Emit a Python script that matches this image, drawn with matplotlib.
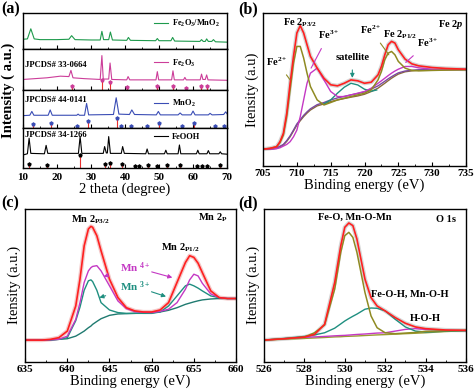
import numpy as np
import matplotlib
matplotlib.use('Agg')
import matplotlib.pyplot as plt
from matplotlib.ticker import MultipleLocator

plt.rcParams['font.family'] = 'Liberation Serif'
plt.rcParams['font.weight'] = 'bold'
plt.rcParams['mathtext.fontset'] = 'custom'
plt.rcParams['mathtext.rm'] = 'Liberation Serif:bold'
plt.rcParams['mathtext.it'] = 'Liberation Serif:italic:bold'
plt.rcParams['mathtext.bf'] = 'Liberation Serif:bold'
plt.rcParams['axes.linewidth'] = 1.0

# ---------------- (a) XRD ----------------
comp_x = [10, 11.3, 12.3, 13.3, 15, 20, 23.5, 24.3, 25.3, 30, 32.7, 33.2, 33.7, 35.2, 35.7, 36.3,
          40.5, 41, 41.6, 49, 49.5, 50, 53.5, 54, 54.6, 62, 62.5, 63, 63.6, 64, 64.5, 65.5, 66, 66.6, 70]
comp_y = [.27, .28, .56, .28, .26, .26, .27, .37, .26, .25, .25, .49, .26, .26, .47, .25,
          .24, .32, .24, .23, .29, .23, .23, .32, .22, .21, .26, .21, .21, .28, .21, .21, .26, .20, .19]

fe2o3_x = [10, 17, 21, 23.5, 24.1, 24.7, 28, 32.7, 33.2, 33.6, 35.2, 35.6, 36.1, 40.5, 40.9, 41.4,
           49.1, 49.5, 49.9, 53.7, 54.1, 54.5, 57.2, 57.6, 58, 62.1, 62.5, 62.9, 63.6, 64, 64.4, 70]
fe2o3_y = [.26, .30, .34, .33, .48, .30, .28, .26, .84, .27, .27, .66, .26, .25, .33, .25,
           .25, .45, .25, .25, .47, .25, .25, .31, .25, .25, .39, .26, .26, .37, .25, .24]
fe2o3_ref = [24.3, 33.2, 35.6, 40.7, 49.4, 54.1, 57.8, 62.2, 64.0]
fe2o3_ref_h = [.10, .25, .19, .07, .10, .10, .06, .09, .09]

mno2_x = [10, 12, 12.6, 13.2, 17.4, 18, 18.6, 25.8, 26.2, 26.6, 28.1, 28.7, 29.3, 36.6, 37.4, 38.2,
          41.3, 42, 42.8, 49.2, 49.8, 50.4, 55.6, 56.2, 56.8, 59.4, 60, 60.6, 64.5, 65, 65.6, 69, 69.6, 70]
mno2_y = [.33, .34, .44, .34, .34, .48, .34, .34, .37, .34, .34, .65, .35, .36, .80, .37,
          .36, .48, .36, .35, .44, .35, .35, .40, .35, .35, .45, .35, .35, .39, .35, .36, .43, .38]
mno2_ref = [12.9, 18.2, 26.0, 29.0, 37.6, 38.9, 41.8, 46.5, 49.9, 56.8, 60.2, 66.6, 69.1]
mno2_ref_h = [.11, .13, .05, .20, .27, .06, .07, .05, .13, .06, .14, .05, .06]

feooh_x = [10, 11.3, 11.8, 12.3, 16.3, 16.8, 17.3, 26.3, 26.8, 27.3, 33.6, 34.0, 34.5, 34.8, 35.2, 35.7,
           38.9, 39.3, 39.8, 46.1, 46.5, 46.9, 51.6, 52.0, 52.4, 55.6, 56.0, 56.4, 61.0, 61.4, 61.8,
           64.1, 64.5, 64.9, 67.6, 68.0, 68.4, 70]
feooh_y = [.33, .36, .75, .37, .36, .57, .37, .37, .79, .37, .37, .54, .38, .38, .79, .37,
           .37, .54, .37, .36, .48, .36, .36, .45, .36, .36, .58, .36, .36, .45, .36,
           .36, .44, .36, .36, .41, .36, .35]
feooh_ref = [11.8, 17.0, 26.8, 34.2, 35.7, 39.1, 43.0, 44.0, 46.8, 49.4, 52.4, 56.1, 61.2, 62.7, 64.2, 67.9]
feooh_ref_h = [.11, .08, .33, .10, .13, .11, .06, .06, .08, .06, .07, .09, .06, .06, .06, .07]

# ---------------- (b) Fe 2p ----------------
fe_x = [705, 706, 707, 707.5, 708, 708.5, 709, 709.5, 710, 710.5, 711, 711.5, 712, 713, 714, 715, 716,
        717, 718, 719, 720, 721, 722, 722.5, 723, 723.5, 724, 724.5, 725, 726, 727, 728, 730, 732, 735]
fe_sum = [10.9, 11.4, 12.5, 15.8, 21.2, 34.4, 54.0, 71.6, 86.9, 91.7, 86.9, 79.2, 71.6, 63.9, 57.3, 53.0, 52.3,
          54.0, 56.2, 55.6, 54.0, 54.7, 59.5, 65.0, 72.6, 79.2, 81.4, 80.3, 75.9, 69.8, 66.7, 65.4, 64.3, 63.7, 63.2]
fe2_y = [10.9, 11.4, 12.5, 15.1, 20.1, 32.2, 49.7, 67.2, 78.1, 78.1, 70.5, 60.6, 51.9, 43.1, 39.8, 41.4, 43.1,
         44.2, 45.3, 46.4, 47.5, 49.7, 56.2, 61.7, 69.4, 73.7, 74.8, 72.6, 68.3, 63.9, 62.4, 62.1, 62.4, 62.6, 62.8]
fe3_y = [10.9, 10.9, 11.2, 11.8, 12.9, 14.0, 15.8, 19.0, 23.4, 32.2, 43.1, 54.0, 60.6, 63.9, 56.2, 48.6, 45.3,
         45.3, 46.4, 47.5, 48.6, 50.8, 54.0, 55.6, 57.3, 59.0, 60.6, 62.0, 63.2, 65.0, 65.0, 64.1, 63.2, 63.0, 63.0]
fe_bg = [10.9, 10.9, 11.4, 12.5, 13.6, 16.0, 19.0, 22.8, 26.7, 29.5, 32.2, 34.5, 36.5, 39.2, 40.5, 42.0, 43.1,
         44.0, 44.9, 45.7, 46.8, 48.6, 50.8, 52.4, 54.0, 55.7, 57.3, 58.7, 60.0, 61.5, 62.1, 62.6, 62.8, 62.9, 63.0]
fe_bg2 = [10.9, 10.9, 11.6, 12.8, 14.0, 16.5, 19.6, 23.4, 27.4, 30.2, 33.0, 35.3, 37.3, 40.0, 41.4, 43.1, 44.4,
          45.4, 46.4, 47.3, 48.4, 50.2, 52.3, 53.8, 55.3, 56.9, 58.3, 59.6, 60.8, 62.0, 62.5, 62.8, 62.9, 63.0, 63.0]
sat_x = [714, 715, 716, 717, 718, 719, 720, 721, 721.8]
sat_y = [40.5, 43.1, 47.5, 51.4, 54.0, 52.9, 50.1, 48.8, 49.6]

# ---------------- (c) Mn 2p ----------------
mn_x = [635, 637, 638, 639, 640, 641, 641.5, 642, 642.5, 642.8, 643, 643.5, 644, 645, 646, 647, 648,
        649, 650, 651, 652, 653, 654, 654.5, 655, 655.5, 656, 657, 658, 659, 660]
mn_sum = [14.2, 14.2, 14.7, 15.8, 20.1, 36.5, 54.0, 75.9, 86.9, 88.6, 88.0, 82.5, 72.6, 54.0, 42.0, 35.4, 33.3,
          32.6, 32.6, 33.9, 38.7, 51.9, 65.0, 69.4, 68.3, 64.5, 58.4, 46.4, 42.0, 41.4, 41.4]
mn4_y = [14.2, 14.2, 14.4, 14.7, 16.8, 27.8, 38.7, 51.9, 59.5, 61.6, 62.4, 62.9, 59.5, 49.7, 39.8, 34.8, 32.8,
         32.4, 32.2, 33.0, 34.4, 38.7, 47.5, 53.6, 57.3, 56.2, 51.4, 44.4, 42.0, 41.4, 41.4]
mn3_y = [14.2, 14.2, 14.4, 14.7, 15.8, 26.9, 35.7, 46.8, 53.0, 53.6, 52.5, 46.8, 38.7, 33.9, 32.2, 31.7, 31.7,
         31.7, 31.7, 32.6, 36.5, 43.1, 49.7, 50.8, 49.7, 48.2, 46.4, 43.1, 42.0, 41.4, 41.4]
mn_bg = [14.2, 14.2, 14.2, 14.7, 15.1, 16.8, 18.4, 20.1, 22.3, 23.4, 24.5, 26.4, 28.2, 30.4, 31.3, 31.5, 31.7,
         32.0, 32.2, 32.6, 33.7, 35.4, 37.6, 38.4, 39.2, 39.9, 40.5, 41.1, 41.4, 41.4, 41.4]

# ---------------- (d) O 1s ----------------
o_x = [526, 527, 528, 528.5, 529, 529.5, 529.8, 530, 530.2, 530.4, 530.6, 531, 531.3, 531.6, 532,
       532.5, 533, 533.5, 534, 535, 536]
o_sum = [14.2, 15.1, 16.2, 17.9, 24.5, 51.9, 75.9, 88.0, 90.8, 89.1, 80.3, 54.0, 42.0, 36.5, 33.3,
         28.9, 25.2, 22.8, 21.7, 20.8, 20.6]
o_lat = [14.2, 15.1, 16.2, 19.0, 24.1, 47.5, 71.6, 82.5, 84.7, 81.4, 71.6, 45.3, 30.0, 22.3, 19.0,
         18.4, 18.8, 19.2, 19.9, 20.3, 20.6]
o_oh = [14.2, 15.3, 16.6, 17.6, 19.0, 22.0, 24.8, 26.7, 28.3, 29.8, 31.2, 34.4, 35.2, 35.0, 33.3,
        27.8, 22.8, 20.1, 19.5, 20.0, 20.4]
o_h2o = [14.2, 15.1, 16.0, 16.3, 16.6, 17.0, 17.2, 17.3, 17.5, 17.7, 17.9, 18.2, 18.5, 18.8, 19.0,
         20.1, 21.2, 21.7, 21.2, 20.6, 20.4]
o_bg = [14.2, 14.8, 15.3, 15.6, 15.9, 16.3, 16.4, 16.6, 16.7, 16.8, 16.9, 17.2, 17.4, 17.6, 17.8,
        18.1, 18.4, 18.7, 19.0, 19.8, 20.4]

fig = plt.figure(figsize=(4.74, 3.92), dpi=100)

# panel (a): four stacked axes
bounds = [0.967, 0.875, 0.770, 0.673, 0.571]
left_a, width_a = 0.0485, 0.4305
patterns = [
    (comp_x, comp_y, None, None, '#1e9a4c', r'Fe$_2$O$_3$/MnO$_2$', None, 0.70),
    (fe2o3_x, fe2o3_y, fe2o3_ref, fe2o3_ref_h, '#cc3d99', r'Fe$_2$O$_3$', 'JPCDS# 33-0664', 0.66),
    (mno2_x, mno2_y, mno2_ref, mno2_ref_h, '#3a4db5', r'MnO$_2$', 'JPCDS# 44-0141', 0.65),
    (feooh_x, feooh_y, feooh_ref, feooh_ref_h, 'black', 'FeOOH', 'JPCDS# 34-1266', 0.79),
]
card_y = [None, 0.60, 0.74, 0.83]
axs_a = []
for i, (xs, ys, rp, rh, col, lab, card, ly) in enumerate(patterns):
    ax = fig.add_axes([left_a, bounds[i + 1], width_a, bounds[i] - bounds[i + 1]])
    ax.plot(xs, ys, color=col, lw=0.8, label=lab)
    if rp is not None:
        ax.vlines(rp, 0, rh, color='#e83030', lw=0.8)
        ax.plot(rp, rh, ls='none', marker='p', ms=2.2, color=col, mec=col)
        ax.text(10.6, card_y[i], card, fontsize=6.2, va='center', ha='left')
    ax.legend(loc='center left', bbox_to_anchor=(0.64, ly), frameon=False, fontsize=6,
              handlelength=1.7, handletextpad=0.5, borderpad=0, borderaxespad=0)
    ax.set_xlim(10, 70)
    ax.set_ylim(0, 1)
    ax.set_yticks([])
    ax.xaxis.set_major_locator(MultipleLocator(10))
    ax.xaxis.set_minor_locator(MultipleLocator(5))
    ax.tick_params(axis='x', direction='in', length=3, width=0.8, labelsize=8)
    ax.tick_params(axis='x', which='minor', direction='in', length=1.8, width=0.6)
    if i < 3:
        ax.tick_params(axis='x', labelbottom=False)
    axs_a.append(ax)
axs_a[-1].set_xlabel('2 theta (degree)', fontsize=10.5, labelpad=0)
fig.text(0.018, 0.769, 'Intensity ( a.u.)', rotation=90, fontsize=10.5, ha='center', va='center')
fig.text(0.003, 0.976, '(a)', fontsize=11.5, va='center', ha='left')


def style_xps(ax, xmin, xmax, step, ylab):
    ax.set_xlim(xmin, xmax)
    ax.set_ylim(0, 100)
    ax.set_yticks([])
    ax.xaxis.set_major_locator(MultipleLocator(step))
    ax.xaxis.set_minor_locator(MultipleLocator(step / 2))
    ax.tick_params(axis='x', direction='in', length=3, width=0.8, labelsize=8, pad=2)
    ax.tick_params(axis='x', which='minor', direction='in', length=1.8, width=0.6)
    ax.set_xlabel('Binding energy (eV)', fontsize=10.5, labelpad=1)
    ax.set_ylabel(ylab, fontsize=10.5, labelpad=3)


# panel (b)
axb = fig.add_axes([0.555, 0.577, 0.428, 0.390])
axb.plot(fe_x, fe_sum, color='#d6d6d6', lw=3.0)
axb.plot(fe_x, fe_bg, color='#8a6a3a', lw=1.0)
axb.plot(fe_x, fe_bg2, color='#7a4aa0', lw=1.0)
axb.plot(sat_x, sat_y, color='#1f8f80', lw=1.0)
axb.plot(fe_x, fe3_y, color='#c438c4', lw=1.0)
axb.plot(fe_x, fe2_y, color='#8f8a22', lw=1.1)
axb.plot(fe_x, fe_sum, color='#ff2020', lw=1.2)
style_xps(axb, 705, 735, 5, 'Itensity (a.u)')
axb.text(710.5, 93.9, r'Fe 2$_{\mathrm{P3/2}}$', fontsize=7.5, ha='center', va='center')
axb.text(725.3, 85.8, r'Fe 2$_{\mathrm{P1/2}}$', fontsize=7.5, ha='center', va='center')
axb.text(732.7, 92.3, r'Fe 2$\mathit{p}$', fontsize=7.5, ha='center', va='center')
axb.annotate(r'Fe$^{3+}$', xy=(712.1, 63.9), xytext=(714.7, 85.8), fontsize=7.5, ha='center', va='center',
             arrowprops=dict(arrowstyle='-', color='#c438c4', lw=0.8, shrinkA=4, shrinkB=0))
axb.annotate(r'Fe$^{2+}$', xy=(709.0, 56.2), xytext=(707.0, 68.3), fontsize=7.5, ha='center', va='center',
             arrowprops=dict(arrowstyle='-', color='#8f8a22', lw=0.8, shrinkA=4, shrinkB=0))
axb.annotate('satellite', xy=(718.2, 57.5), xytext=(718.2, 71.1), fontsize=7.5, ha='center', va='center',
             arrowprops=dict(arrowstyle='-|>', color='#1f8f80', lw=0.8, mutation_scale=6, shrinkA=4, shrinkB=0))
axb.annotate(r'Fe$^{2+}$', xy=(723.6, 72.6), xytext=(720.9, 89.1), fontsize=7.5, ha='center', va='center',
             arrowprops=dict(arrowstyle='-', color='#8f8a22', lw=0.8, shrinkA=4, shrinkB=0))
axb.annotate(r'Fe$^{3+}$', xy=(726.1, 67.6), xytext=(729.3, 80.3), fontsize=7.5, ha='center', va='center',
             arrowprops=dict(arrowstyle='-', color='#c438c4', lw=0.8, shrinkA=4, shrinkB=0))
fig.text(0.503, 0.976, '(b)', fontsize=11.5, va='center', ha='left')

# panel (c)
axc = fig.add_axes([0.053, 0.077, 0.445, 0.390])
axc.plot(mn_x, mn_sum, color='#f3c8c8', lw=3.0)
axc.plot(mn_x, mn_bg, color='#1f7a70', lw=1.0)
axc.plot(mn_x, mn3_y, color='#1f8f80', lw=1.0)
axc.plot(mn_x, mn4_y, color='#c438c4', lw=1.0)
axc.plot(mn_x, mn_sum, color='#ff2020', lw=1.2)
style_xps(axc, 635, 660, 5, 'Itensity (a.u.)')
axc.text(642.8, 93.0, r'Mn 2$_{\mathrm{P3/2}}$', fontsize=7.5, ha='center', va='center')
axc.text(653.4, 74.8, r'Mn 2$_{\mathrm{P1/2}}$', fontsize=7.5, ha='center', va='center')
axc.text(657.2, 94.5, r'Mn 2$_{\mathrm{P}}$', fontsize=7.5, ha='center', va='center')
mn4_lab = dict(fontsize=8, ha='center', va='center', color='#c438c4')
axc.annotate(r'Mn $^{4+}$', xy=(644.3, 55.8), xytext=(648.1, 61.7), **mn4_lab,
             arrowprops=dict(arrowstyle='-|>', color='#c438c4', lw=0.8, mutation_scale=6, shrinkA=9, shrinkB=0))
axc.annotate('', xy=(652.45, 55.1), xytext=(648.1, 61.7),
             arrowprops=dict(arrowstyle='-|>', color='#c438c4', lw=0.8, mutation_scale=6, shrinkA=12, shrinkB=0))
mn3_lab = dict(fontsize=8, ha='center', va='center', color='#1f8f80')
axc.annotate(r'Mn $^{3+}$', xy=(643.8, 42.0), xytext=(648.1, 49.2), **mn3_lab,
             arrowprops=dict(arrowstyle='-|>', color='#1f8f80', lw=0.8, mutation_scale=6, shrinkA=9, shrinkB=0))
axc.annotate('', xy=(651.7, 42.7), xytext=(648.1, 49.2),
             arrowprops=dict(arrowstyle='-|>', color='#1f8f80', lw=0.8, mutation_scale=6, shrinkA=12, shrinkB=0))
fig.text(0.003, 0.48, '(c)', fontsize=11.5, va='center', ha='left')

# panel (d)
axd = fig.add_axes([0.557, 0.077, 0.426, 0.390])
axd.plot(o_x, o_sum, color='#d6d6d6', lw=3.0)
axd.plot(o_x, o_bg, color='#9a9a30', lw=1.0)
axd.plot(o_x, o_h2o, color='#c438c4', lw=1.0)
axd.plot(o_x, o_oh, color='#1f8f80', lw=1.0)
axd.plot(o_x, o_lat, color='#8f8a22', lw=1.1)
axd.plot(o_x, o_sum, color='#ff2020', lw=1.2)
style_xps(axd, 526, 536, 2, 'Itensity (a.u.)')
axd.text(530.5, 94.5, 'Fe-O, Mn-O-Mn', fontsize=7.5, ha='center', va='center')
axd.text(535.0, 93.4, 'O 1s', fontsize=7.5, ha='center', va='center')
axd.text(533.2, 44.2, 'Fe-O-H, Mn-O-H', fontsize=7.5, ha='center', va='center')
axd.text(534.0, 28.2, 'H-O-H', fontsize=7.5, ha='center', va='center')
fig.text(0.503, 0.48, '(d)', fontsize=11.5, va='center', ha='left')

fig.savefig('out.png', dpi=100)
